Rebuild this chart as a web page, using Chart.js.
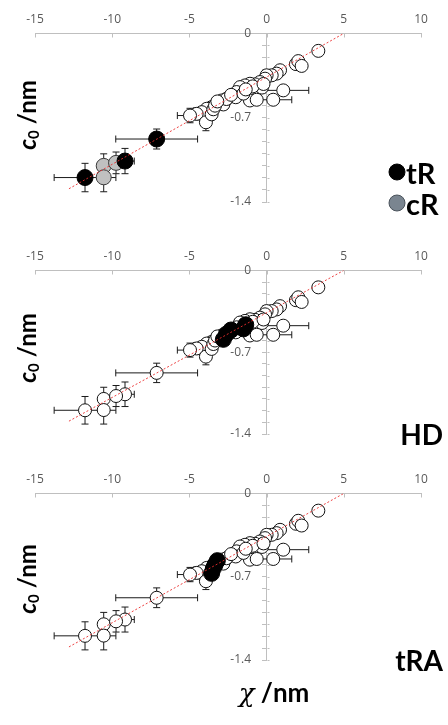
<!DOCTYPE html>
<html>
<head>
<meta charset="utf-8">
<script src="https://cdn.jsdelivr.net/npm/chart.js@4.4.0/dist/chart.umd.min.js"></script>
<style>
  body { margin:0; width:448px; height:725px; background:#fff; position:relative; overflow:hidden; }
  canvas { position:absolute; left:0; }
  .lab { position:absolute; white-space:nowrap; color:#000; font-family:"Lato","Open Sans",sans-serif; font-weight:bold; line-height:1; }
  .ylab { font-size:24px; transform:translate(-50%,-50%) rotate(-90deg); }
  .ylab sub { font-size:15px; vertical-align:-3px; font-style:normal; }
  .tag { font-size:28px; transform:translate(-100%,-50%); }
  .dot { position:absolute; width:17px; height:17px; border-radius:50%; box-sizing:border-box; transform:translate(-50%,-50%); }
</style>
</head>
<body>
<canvas id="c1" width="448" height="222" style="top:0px"></canvas>
<canvas id="c2" width="448" height="217" style="top:237px"></canvas>
<canvas id="c3" width="448" height="220" style="top:460px"></canvas>

<div class="lab ylab" style="left:28px;top:115px"><i>c</i><sub>0</sub> /nm</div>
<div class="lab ylab" style="left:28px;top:348px"><i>c</i><sub>0</sub> /nm</div>
<div class="lab ylab" style="left:28px;top:579px"><i>c</i><sub>0</sub> /nm</div>

<div class="dot" style="left:397px;top:172px;background:#000;border:1px solid #000"></div>
<div class="dot" style="left:397px;top:203px;background:#7a8590;border:1px solid #4a525a"></div>
<div class="lab" style="left:406px;top:172px;font-size:29px;transform:translateY(-50%)">tR</div>
<div class="lab" style="left:406px;top:203px;font-size:29px;transform:translateY(-50%)">cR</div>
<div class="lab tag" style="left:443px;top:434px">HD</div>
<div class="lab tag" style="left:443px;top:660px">tRA</div>
<div class="lab" style="left:274px;top:692px;font-size:26px;transform:translate(-50%,-50%)"><i style="font-family:'DejaVu Serif',serif;font-weight:normal">χ</i> /nm</div>

<script>
// ---- axis ticks ----
const xTickValues = [-15, -10, -5, 0, 5, 10];
const yMajorValues = [0, -0.7, -1.4];
const yMajorLabels = ['0', '-0.7', '-1.4'];
const yMinorValues = [0, -0.1, -0.2, -0.3, -0.4, -0.5, -0.6, -0.7, -0.8, -0.9, -1.0, -1.1, -1.2, -1.3, -1.4];

// ---- data: other (always white) points ----
const otherX    = [3.35, 1.90, 2.05, 2.27, 0.87, 0.65, 0.33, 0.00, -0.10, -0.43, -0.75, -1.08, -1.40, -1.72, -1.94, -1.29, -0.30, -2.26, -2.58, -2.91, -3.23, -3.56, -3.88, -4.20, -4.53, -4.96, -3.93, -1.08, -0.64, 0.43, 1.08, -2.00, -0.90, -0.20];
const otherY    = [-0.145, -0.255, -0.230, -0.270, -0.306, -0.334, -0.348, -0.348, -0.376, -0.404, -0.423, -0.418, -0.432, -0.446, -0.487, -0.500, -0.450, -0.515, -0.543, -0.557, -0.584, -0.612, -0.626, -0.654, -0.668, -0.682, -0.738, -0.557, -0.551, -0.551, -0.473, -0.530, -0.440, -0.420];
const otherXErr = [0, 0, 0, 0, 0, 0, 0, 0, 0, 0, 0, 0, 0, 0, 0, 0, 0, 0, 0, 0, 0, 0, 0, 0, 0, 0.82, 0.30, 0.30, 0, 1.20, 1.65, 0, 0, 0];
const otherYErr = [0, 0, 0, 0, 0, 0, 0, 0, 0, 0, 0, 0, 0, 0, 0.03, 0, 0, 0.03, 0.04, 0.04, 0.04, 0.04, 0.04, 0.04, 0.05, 0.06, 0.07, 0.03, 0.03, 0.03, 0, 0.03, 0, 0];

// ---- tR ----
const tRX    = [-7.12, -9.17, -11.76];
const tRY    = [-0.877, -1.060, -1.197];
const tRXErr = [2.65, 0.60, 2.00];
const tRYErr = [0.083, 0.105, 0.118];
// ---- cR ----
const cRX    = [-10.55, -9.75, -10.55];
const cRY    = [-1.100, -1.075, -1.195];
const cRXErr = [0, 0, 0];
const cRYErr = [0.10, 0.09, 0.12];
// ---- HD ----
const hdX    = [-2.80, -2.60, -2.30, -1.50, -1.35];
const hdY    = [-0.590, -0.545, -0.510, -0.500, -0.465];
const hdXErr = [0, 0, 0, 0, 0];
const hdYErr = [0.03, 0.03, 0.03, 0, 0];
// ---- tRA ----
const traX    = [-3.56, -3.45, -3.34, -3.19];
const traY    = [-0.672, -0.630, -0.600, -0.565];
const traXErr = [0, 0, 0, 0];
const traYErr = [0.03, 0.03, 0.03, 0.03];

// ---- fitted line ----
const trendX = [-12.8, 5.0];
const trendY = [-1.29, 0.0];

const groups = {
  other: { x: otherX, y: otherY, ex: otherXErr, ey: otherYErr },
  tR:    { x: tRX, y: tRY, ex: tRXErr, ey: tRYErr },
  cR:    { x: cRX, y: cRY, ex: cRXErr, ey: cRYErr },
  HD:    { x: hdX, y: hdY, ex: hdXErr, ey: hdYErr },
  tRA:   { x: traX, y: traY, ex: traXErr, ey: traYErr }
};

const panels = [
  { id: 'c1', black: ['tR'], gray: ['cR'] },
  { id: 'c2', black: ['HD'], gray: [] },
  { id: 'c3', black: ['tRA'], gray: [] }
];

function collect(names) {
  const pts = [], ex = [], ey = [];
  names.forEach(n => {
    const g = groups[n];
    g.x.forEach((v, i) => { pts.push({ x: v, y: g.y[i] }); ex.push(g.ex[i]); ey.push(g.ey[i]); });
  });
  return { pts, ex, ey };
}

const errorBarPlugin = {
  id: 'errorBars',
  beforeDatasetsDraw(chart) {
    const { ctx } = chart;
    const xs = chart.scales.x, ys = chart.scales.y;
    ctx.save();
    ctx.strokeStyle = '#bfbfbf';
    ctx.lineWidth = 1;
    ctx.beginPath();
    const top = Math.round(chart.chartArea.top) + 0.5;
    xTickValues.forEach(v => {
      const px = Math.round(xs.getPixelForValue(v)) + 0.5;
      ctx.moveTo(px, top); ctx.lineTo(px, top + 4);
    });
    const x0 = Math.round(xs.getPixelForValue(0)) + 0.5;
    yMinorValues.forEach(v => {
      const py = Math.round(ys.getPixelForValue(v)) + 0.5;
      ctx.moveTo(x0, py); ctx.lineTo(x0 + 2, py);
    });
    ctx.stroke();

    ctx.strokeStyle = '#1a1a1a';
    ctx.lineWidth = 1;
    chart.data.datasets.forEach(ds => {
      if (!ds.errX) return;
      ds.data.forEach((p, i) => {
        const px = xs.getPixelForValue(p.x), py = ys.getPixelForValue(p.y);
        const ex = ds.errX[i], ey = ds.errY[i];
        ctx.beginPath();
        if (ex > 0) {
          const l = xs.getPixelForValue(p.x - ex), r = xs.getPixelForValue(p.x + ex);
          ctx.moveTo(l, py); ctx.lineTo(r, py);
          ctx.moveTo(l, py - 3.5); ctx.lineTo(l, py + 3.5);
          ctx.moveTo(r, py - 3.5); ctx.lineTo(r, py + 3.5);
        }
        if (ey > 0) {
          const t = ys.getPixelForValue(p.y + ey), b = ys.getPixelForValue(p.y - ey);
          ctx.moveTo(px, t); ctx.lineTo(px, b);
          ctx.moveTo(px - 3.5, t); ctx.lineTo(px + 3.5, t);
          ctx.moveTo(px - 3.5, b); ctx.lineTo(px + 3.5, b);
        }
        ctx.stroke();
      });
    });
    ctx.restore();
  }
};

const tickFont = { family: '"Open Sans", sans-serif', size: 12 };

panels.forEach(panel => {
  const highlighted = panel.black.concat(panel.gray);
  const whiteNames = Object.keys(groups).filter(n => !highlighted.includes(n));
  const white = collect(whiteNames);
  const black = collect(panel.black);
  const gray = collect(panel.gray);
  const trend = trendX.map((v, i) => ({ x: v, y: trendY[i] }));

  const datasets = [
    { type: 'line', data: trend, borderColor: 'rgba(235,45,45,0.9)', borderWidth: 1, borderDash: [2, 2],
      pointRadius: 0, fill: false, order: 0 },
    { data: black.pts, errX: black.ex, errY: black.ey, pointRadius: 8, pointBackgroundColor: '#000',
      pointBorderColor: '#000', pointBorderWidth: 1, order: 1 },
    { data: gray.pts, errX: gray.ex, errY: gray.ey, pointRadius: 7.5, pointBackgroundColor: '#c0c0c0',
      pointBorderColor: '#3a3a3a', pointBorderWidth: 1, order: 2 },
    { data: white.pts, errX: white.ex, errY: white.ey, pointRadius: 6.5, pointBackgroundColor: '#fff',
      pointBorderColor: '#111', pointBorderWidth: 1, order: 3 }
  ];

  new Chart(document.getElementById(panel.id), {
    type: 'scatter',
    data: { datasets },
    plugins: [errorBarPlugin],
    options: {
      responsive: false,
      animation: false,
      layout: { padding: { left: 35, right: 27, top: 5, bottom: 20 } },
      plugins: { legend: { display: false }, tooltip: { enabled: false } },
      scales: {
        x: {
          type: 'linear', position: 'top', min: -15, max: 10,
          afterBuildTicks: s => { s.ticks = xTickValues.map(v => ({ value: v })); },
          ticks: { font: tickFont, color: '#595959', padding: 7, maxRotation: 0, autoSkip: false },
          grid: { drawOnChartArea: false, drawTicks: false },
          border: { color: '#bfbfbf' }
        },
        y: {
          type: 'linear', position: { x: 0 }, min: -1.4, max: 0,
          afterBuildTicks: s => { s.ticks = yMinorValues.map(v => ({ value: v })); },
          ticks: {
            autoSkip: false, font: tickFont, color: '#595959',
            callback: v => {
              const i = yMajorValues.findIndex(m => Math.abs(m - v) < 1e-9);
              return i >= 0 ? yMajorLabels[i] + '     ' : '';
            }
          },
          grid: { drawOnChartArea: false, drawTicks: true, tickLength: 4, color: '#bfbfbf' },
          border: { color: '#bfbfbf' }
        }
      }
    }
  });
});
</script>
</body>
</html>
